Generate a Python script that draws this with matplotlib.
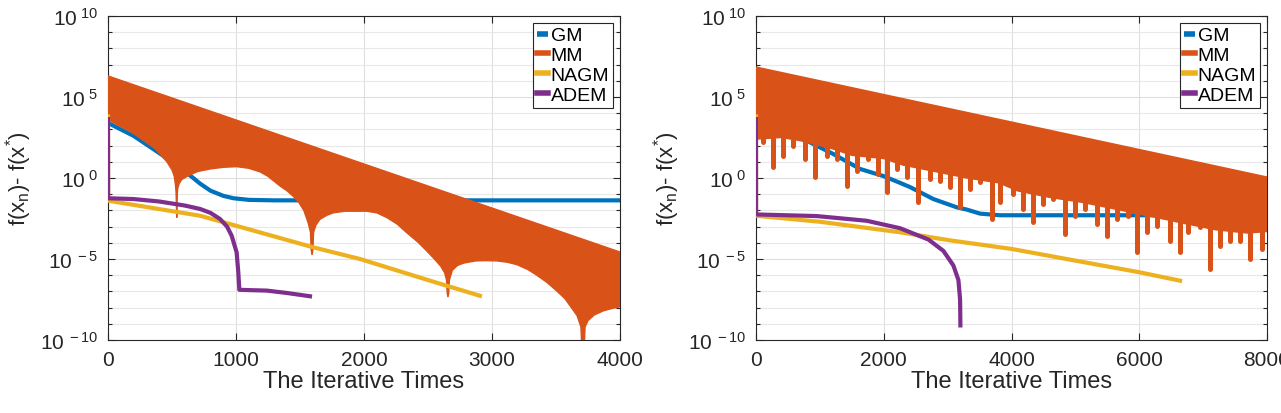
import numpy as np
import matplotlib
matplotlib.use("Agg")
import matplotlib.pyplot as plt

plt.rcParams['font.family'] = ['Liberation Sans', 'DejaVu Sans']
plt.rcParams['mathtext.fontset'] = 'custom'
plt.rcParams['mathtext.rm'] = 'Liberation Sans'
plt.rcParams['mathtext.it'] = 'Liberation Sans'
plt.rcParams['mathtext.default'] = 'regular'

C_GM, C_MM, C_NAGM, C_ADEM = '#0072BD', '#D95319', '#EDB120', '#7E2F8E'

# ---------------- left panel (values are log10 of f(x_n)-f(x*)) ----------------
gm1_x = [0, 200, 370, 500, 627, 720, 800, 900, 980, 1100, 1300, 4000]
gm1_y = [3.4, 2.6, 1.7, 1.0, 0.25, -0.35, -0.78, -1.1, -1.25, -1.35, -1.38, -1.38]

mm1_up_x = [0, 4000]
mm1_up_y = [6.3, -4.57]
mm1_lo_x = [0, 200, 370, 460, 500, 518, 528, 532, 537, 542, 546, 556, 575, 630, 700, 800, 900,
            1005, 1100, 1190, 1250, 1345, 1400, 1450, 1490, 1530, 1565, 1582, 1587, 1594, 1601,
            1606, 1625, 1656, 1710, 1760, 1850, 2020, 2100, 2180, 2260, 2330, 2420, 2490, 2550,
            2600, 2630, 2645, 2650, 2656, 2662, 2667, 2690, 2730, 2780, 2870, 2950, 3040, 3120,
            3195, 3280, 3350, 3430, 3510, 3570, 3620, 3665, 3695, 3700, 3711, 3722, 3727, 3750,
            3800, 3870, 3940, 4000]
mm1_lo_y = [3.6, 2.75, 1.8, 1.0, 0.5, 0.1, -0.5, -0.9, -2.45, -0.9, -0.6, -0.35, -0.1, 0.15,
            0.4, 0.56, 0.66, 0.7, 0.6, 0.37, 0.1, -0.5, -0.8, -1.15, -1.5, -2.0, -2.8, -3.35, -4.4,
            -4.75, -4.4, -3.35, -2.9, -2.55, -2.3, -2.15, -2.05, -2.05, -2.15, -2.45, -2.85,
            -3.35, -3.95, -4.5, -5.0, -5.45, -5.85, -6.3, -7.1, -7.35, -7.1, -6.3, -5.7, -5.4,
            -5.25, -5.12, -5.1, -5.12, -5.2, -5.35, -5.65, -6.0, -6.45, -7.0, -7.45, -8.0, -8.5,
            -9.2, -10.2, -10.5, -10.2, -9.2, -8.8, -8.45, -8.2, -8.05, -7.95]

nagm1_x = [0, 1, 719, 979, 1604, 1969, 2516, 2906]
nagm1_y = [3.8, -1.4, -2.33, -2.9, -4.28, -5.0, -6.34, -7.27]

adem1_x = [0, 1, 200, 400, 600, 719, 800, 875, 930, 966, 1005, 1018, 1026, 1100, 1240, 1400, 1578]
adem1_y = [3.64, -1.25, -1.3, -1.45, -1.7, -1.91, -2.15, -2.53, -3.0, -3.56, -4.59, -5.82, -6.9,
           -6.92, -6.95, -7.1, -7.3]

# ---------------- right panel ----------------
gm2_x = [0, 400, 793, 1211, 1628, 1994, 2255, 2411, 2777, 3143, 3300, 3509, 3665, 3820, 8000]
gm2_y = [3.4, 2.9, 2.3, 1.48, 0.56, 0.12, -0.3, -0.56, -1.3, -1.81, -1.95, -2.2, -2.25, -2.3, -2.3]

mm2_up_x = [0, 8000]
mm2_up_y = [6.85, 0.06]
mm2_lo_x = [0, 400, 700, 1200, 1500, 2000, 2300, 2800, 3300, 3800, 4100, 4600, 5100, 5600, 6100,
            6700, 7200, 7700, 8000]
mm2_lo_y = [2.4, 2.5, 2.3, 1.8, 1.4, 1.2, 0.8, 0.4, 0.0, -0.3, -0.8, -1.2, -1.5, -1.9, -2.3,
            -2.8, -3.2, -3.4, -3.3]
# downward spikes of MM: position, bottom, top (inside the band)
spk_x = [115, 272, 428, 585, 767, 924, 1107, 1263, 1420, 1577, 1760, 1916, 2047, 2204, 2360,
         2542, 2725, 2882, 3038, 3195, 3352, 3509, 3691, 3821, 4030, 4186, 4343, 4500, 4656,
         4839, 4995, 5152, 5335, 5492, 5648, 5831, 5962, 6118, 6275, 6483, 6640, 6771, 6953,
         7110, 7266, 7423, 7580, 7736, 7919]
spk_lo = [2.2, 0.66, 1.38, 2.0, 1.17, 0.04, 1.38, 1.17, -0.47, 0.45, 1.17, 0.25, -0.88, 0.55, 0.04,
          -1.5, -0.06, -0.16, -0.58, -1.81, -0.67, -0.27, -2.53, -1.5, -0.99, -1.91, -2.74, -1.6, -1.3,
          -3.46, -2.33, -1.91, -2.84, -3.56, -2.5, -2.33, -4.59, -3.35, -2.95, -3.87, -4.59, -3.35, -3.05,
          -5.62, -4.18, -3.87, -3.87, -5.0, -4.4]
spk_hi = [3.0, 3.0, 3.0, 3.0, 2.5, 2.5, 2.5, 2.0, 2.0, 2.0, 2.0, 1.5, 1.5, 1.5, 1.5,
          1.0, 1.0, 1.0, 0.8, 0.5, 0.5, 0.5, 0.2, 0.0, -0.3, -0.5, -0.6, -0.7, -0.8,
          -1.0, -1.1, -1.2, -1.3, -1.4, -1.5, -1.6, -1.8, -1.9, -2.0, -2.2, -2.3, -2.4, -2.5,
          -2.6, -2.7, -2.8, -2.9, -3.0, -3.0]

nagm2_x = [0, 1, 1000, 2255, 3038, 4004, 5000, 6003, 6640]
nagm2_y = [3.8, -2.33, -2.7, -3.35, -3.85, -4.38, -5.1, -5.82, -6.34]

adem2_x = [0, 1, 950, 1733, 2255, 2700, 2934, 3090, 3169, 3195, 3200]
adem2_y = [3.64, -2.25, -2.35, -2.64, -3.1, -3.8, -4.5, -5.4, -6.3, -7.5, -9.1]

labels = ['GM', 'MM', 'NAGM', 'ADEM']
yticks = [1e-10, 1e-5, 1e0, 1e5, 1e10]
ytick_labels = [r'$10^{\ -10}$', r'$10^{\ -5}$', r'$10^{\ 0}$', r'$10^{\ 5}$', r'$10^{\ 10}$']


def p(v):
    return 10.0 ** np.asarray(v, dtype=float)


fig = plt.figure(figsize=(12.81, 4.14), dpi=100)
ax1 = fig.add_axes([108 / 1281, 73 / 414, 512 / 1281, 324 / 414])
ax2 = fig.add_axes([756 / 1281, 73 / 414, 511 / 1281, 324 / 414])

lw = 3.0
panels = [
    (ax1, gm1_x, gm1_y, mm1_up_x, mm1_up_y, mm1_lo_x, mm1_lo_y, None,
     nagm1_x, nagm1_y, adem1_x, adem1_y, 4000, [0, 1000, 2000, 3000, 4000]),
    (ax2, gm2_x, gm2_y, mm2_up_x, mm2_up_y, mm2_lo_x, mm2_lo_y, (spk_x, spk_lo, spk_hi),
     nagm2_x, nagm2_y, adem2_x, adem2_y, 8000, [0, 2000, 4000, 6000, 8000]),
]

for (ax, gx, gy, ux, uy, lx, ly, spikes, nx, ny, axx, ay, xmax, xt) in panels:
    ax.set_yscale('log')
    h_gm, = ax.plot(gx, p(gy), color=C_GM, lw=lw, solid_capstyle='butt', zorder=2)
    ax.fill(np.r_[ux, lx[::-1]], p(np.r_[uy, ly[::-1]]), color=C_MM, lw=1.0, ec=C_MM, zorder=3)
    if spikes is not None:
        ax.vlines(spikes[0], p(spikes[1]), p(spikes[2]), color=C_MM, lw=3.6, zorder=3,
                  capstyle='round')
    h_mm, = ax.plot([], [], color=C_MM, lw=lw)
    h_n, = ax.plot(nx, p(ny), color=C_NAGM, lw=lw, zorder=4)
    h_a, = ax.plot(axx, p(ay), color=C_ADEM, lw=lw, zorder=5)

    ax.set_xlim(0, xmax)
    ax.set_ylim(1e-10, 1e10)
    ax.set_xticks(xt)
    ax.set_yticks(yticks)
    ax.set_yticklabels(ytick_labels)
    ax.set_yticks(p(np.arange(-10, 11)), minor=True)
    ax.set_yticklabels([], minor=True)
    ax.set_xticks([], minor=True)
    ax.grid(True, which='major', color='#dedede', lw=0.8)
    ax.grid(True, which='minor', axis='y', color='#e8e8e8', lw=0.8)
    ax.set_axisbelow(True)
    ax.tick_params(which='both', direction='in', top=True, right=True, colors='#262626',
                   labelsize=15, width=0.8)
    ax.tick_params(which='major', length=5, pad=7)
    ax.tick_params(which='minor', length=3)
    for s in ax.spines.values():
        s.set_color('#262626')
        s.set_linewidth(0.8)
    ax.set_xlabel('The Iterative Times', fontsize=17, color='#262626', labelpad=1)
    ax.set_ylabel('f(x$_n$)- f(x$^{*}$)', fontsize=16, color='#262626')
    ax.yaxis.set_label_coords(-0.145, 0.5)
    leg = ax.legend([h_gm, h_mm, h_n, h_a], labels, loc='upper right', fontsize=14,
                    handlelength=0.6, handletextpad=0.12, labelspacing=0.12, borderpad=0.2,
                    borderaxespad=0.35, fancybox=False, framealpha=1)
    leg.get_frame().set_edgecolor('#262626')
    leg.get_frame().set_linewidth(0.8)
    for line in leg.get_lines():
        line.set_linewidth(4)

fig.savefig('out.png', dpi=100)
